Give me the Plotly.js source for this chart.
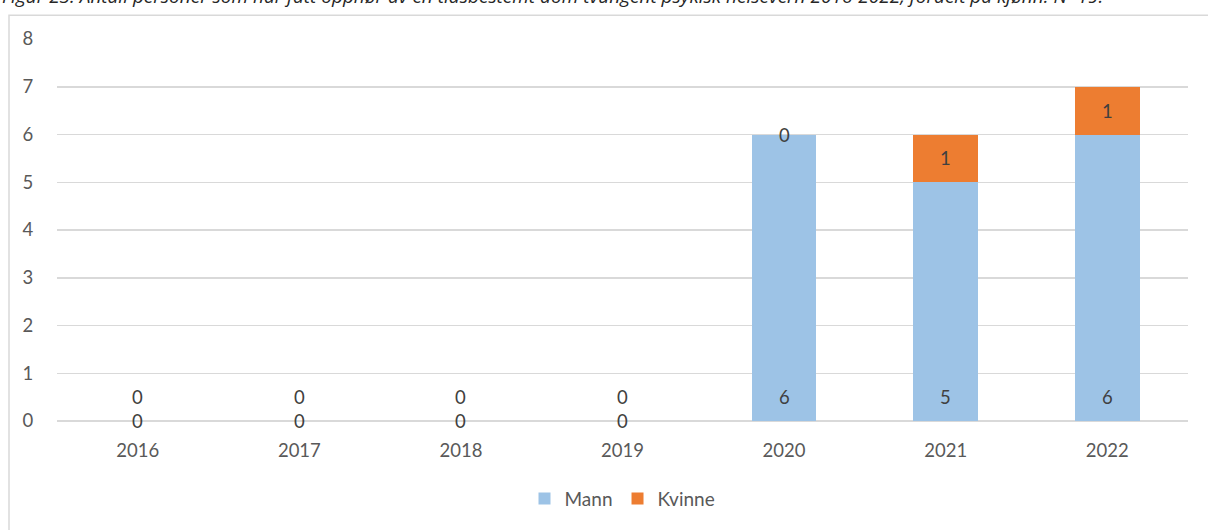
<!DOCTYPE html>
<html>
<head>
<meta charset="utf-8">
<script src="https://cdn.plot.ly/plotly-3.0.1.min.js"></script>
<style>
html,body{margin:0;padding:0;background:#fff;}
#chart{width:1208px;height:530px;}
</style>
</head>
<body>
<div id="chart"></div>
<script>
const years = ["2016","2017","2018","2019","2020","2021","2022"];
const mann = [0,0,0,0,6,5,6];
const kvinne = [0,0,0,0,0,1,1];
const yTicks = [0,1,2,3,4,5,6,7,8];
const titleText = "Figur 23: Antall personer som har fått opphør av en tidsbestemt dom tvungent psykisk helsevern 2016-2022, fordelt på kjønn. N=19.";

const W = 1208, H = 530;
const ml = 57, mr = 20, mt = 39, mb = 107;
const pw = W - ml - mr, ph = H - mt - mb;
const px = v => (v - ml) / pw;          // pixel x -> paper x
const py = v => (H - mb - v) / ph;      // pixel y -> paper y

const fontFam = "Lato, 'Open Sans', sans-serif";
const labelFont = {family: fontFam, size: 18.5, color: "#404040"};
const idx = years.map((_, i) => i);

const traces = [
  {type:"bar", name:"Mann", x:idx, y:mann, width:0.4, marker:{color:"#9dc3e6"}, hoverinfo:"none"},
  {type:"bar", name:"Kvinne", x:idx, y:kvinne, width:0.4, marker:{color:"#ed7d31"}, hoverinfo:"none"}
];

const annotations = [];
idx.forEach(i => {
  annotations.push({x:i, y:0, xref:"x", yref:"y", text:String(mann[i]), showarrow:false,
    yshift:24, font:labelFont, yanchor:"middle"});
  annotations.push({x:i, y:mann[i] + kvinne[i]/2, xref:"x", yref:"y", text:String(kvinne[i]), showarrow:false,
    font:labelFont, yanchor:"middle"});
});
annotations.push({x:px(0), y:py(11), xref:"paper", yref:"paper", xanchor:"left", yanchor:"bottom",
  text:"<i>"+titleText+"</i>", showarrow:false,
  font:{family:"'Open Sans', sans-serif", size:19, color:"#262626"}});

const layout = {
  width:W, height:H,
  margin:{l:ml, r:mr, t:mt, b:mb, pad:0},
  paper_bgcolor:"#fff", plot_bgcolor:"#fff",
  barmode:"stack",
  showlegend:true,
  legend:{orientation:"h", x:0.5, xanchor:"center", y:py(501), yanchor:"middle",
    font:{family:fontFam, size:19, color:"#595959"}, traceorder:"normal"},
  xaxis:{range:[-0.5, years.length-0.5], tickvals:idx, ticktext:years,
    tickfont:{family:fontFam, size:18.5, color:"#595959"},
    showgrid:false, showline:false, zeroline:false, ticks:"outside", ticklen:13, tickcolor:"rgba(0,0,0,0)", fixedrange:true},
  yaxis:{range:[0,8], tickvals:yTicks, ticktext:yTicks.map(String),
    tickfont:{family:fontFam, size:18.5, color:"#595959"},
    showgrid:true, gridcolor:"#d9d9d9", gridwidth:1.5, zeroline:true, zerolinecolor:"#d9d9d9", zerolinewidth:2,
    showline:false, ticks:"outside", ticklen:19, tickcolor:"rgba(0,0,0,0)", fixedrange:true},
  annotations:annotations,
  shapes:[{type:"rect", xref:"paper", yref:"paper", x0:px(9), x1:px(1230), y0:py(15), y1:py(560),
    line:{color:"#d9d9d9", width:1.5}, fillcolor:"rgba(0,0,0,0)", layer:"below"}]
};

Plotly.newPlot("chart", traces, layout, {displayModeBar:false, staticPlot:true});
</script>
</body>
</html>
